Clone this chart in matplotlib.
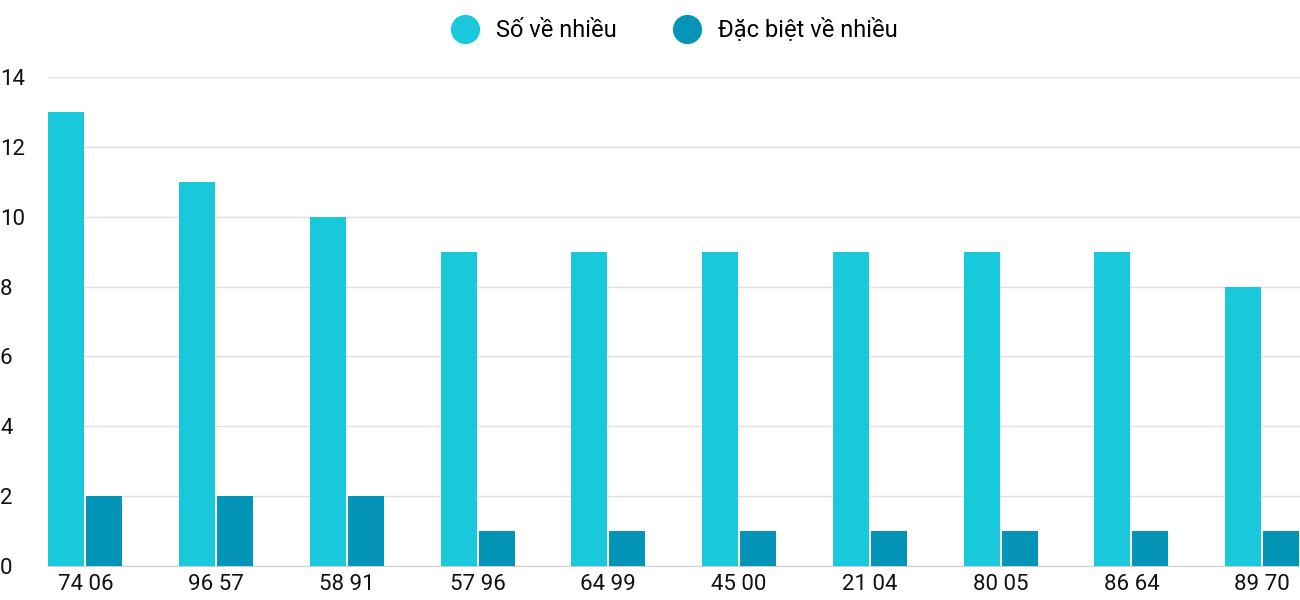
import matplotlib
matplotlib.use("Agg")
import matplotlib.pyplot as plt
from matplotlib.lines import Line2D
import numpy as np

categories = ["74 06", "96 57", "58 91", "57 96", "64 99", "45 00", "21 04", "80 05", "86 64", "89 70"]
so_ve_nhieu = [13, 11, 10, 9, 9, 9, 9, 9, 9, 8]
dac_biet = [2, 2, 2, 1, 1, 1, 1, 1, 1, 1]

plt.rcParams['font.family'] = ['Roboto', 'DejaVu Sans']
c1, c2 = "#1ac8db", "#0494b8"

fig = plt.figure(figsize=(13, 6), dpi=100)
ax = fig.add_axes([0.037, 0.0567, 0.963, 0.815])
x = np.arange(len(categories))
w = 0.275
ax.bar(x - 0.145, so_ve_nhieu, w, color=c1, zorder=3)
ax.bar(x + 0.145, dac_biet, w, color=c2, zorder=3)
ax.set_xlim(-0.285, 9.29)
ax.set_ylim(0, 14)
ax.set_yticks(range(0, 15, 2))
ax.set_xticks(x)
ax.set_xticklabels(categories)
ax.tick_params(axis='both', length=0, labelsize=16, colors="#111111")
ax.tick_params(axis='x', pad=6)
ax.tick_params(axis='y', pad=18)
for lbl in ax.get_yticklabels():
    lbl.set_horizontalalignment('left')
    lbl.set_x(-0.037/0.963)
ax.yaxis.set_tick_params(pad=0)
ax.grid(axis='y', color="#e0e0e0", linewidth=1, zorder=0)
for s in ["top", "right", "left"]:
    ax.spines[s].set_visible(False)
ax.spines["bottom"].set_color("#cccccc")

handles = [Line2D([], [], marker='o', linestyle='', markersize=20, color=c1),
           Line2D([], [], marker='o', linestyle='', markersize=20, color=c2)]
fig.legend(handles, ["Số về nhiều", "Đặc biệt về nhiều"], loc='upper center',
           bbox_to_anchor=(0.515, 1.005), ncol=2, frameon=False, fontsize=17,
           handletextpad=0.3, columnspacing=2.0)
fig.savefig("out.png")
